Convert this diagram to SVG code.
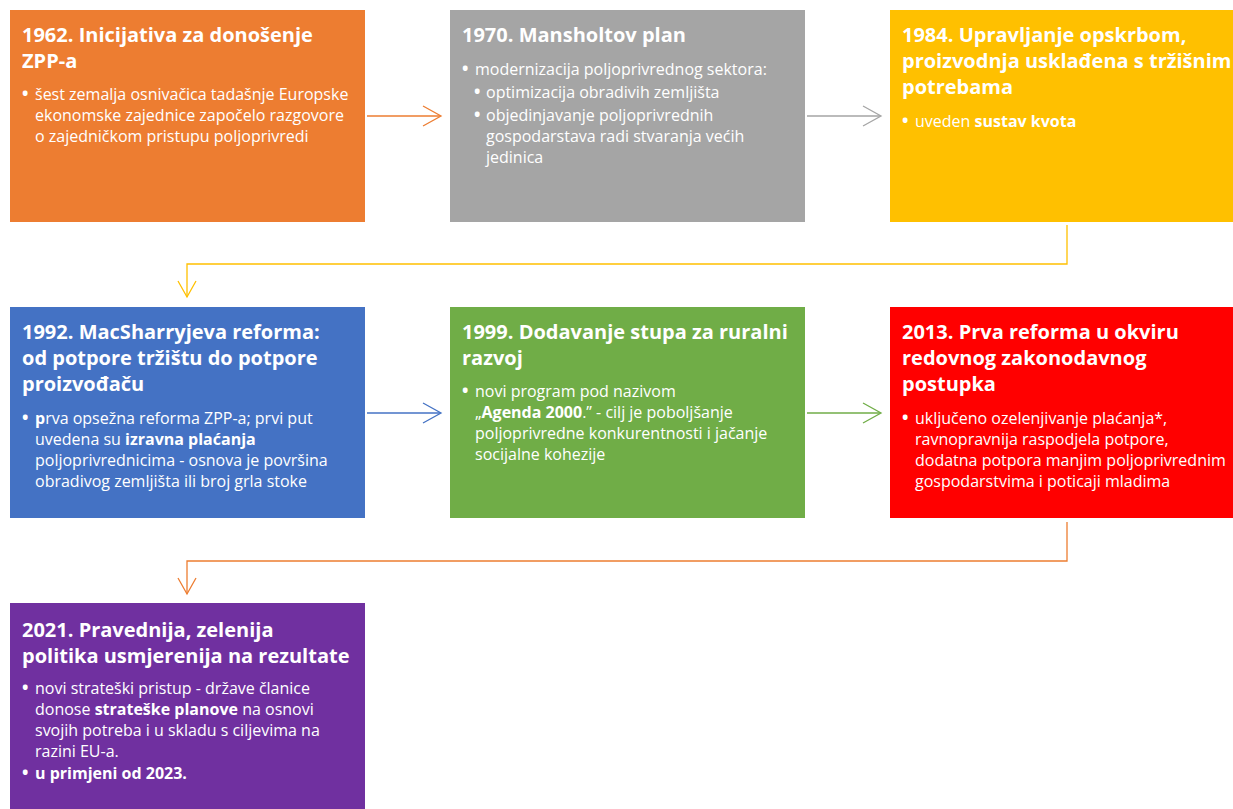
<svg xmlns="http://www.w3.org/2000/svg" width="1233" height="809" viewBox="0 0 1233 809">
<defs>
<style>
.t{font-family:"Open Sans","Liberation Sans",sans-serif;font-weight:700;font-size:20px;fill:#fff}
.b{font-family:"Open Sans","Liberation Sans",sans-serif;font-size:16px;fill:#fff}
.bb{font-weight:700}
.d{font-weight:700;font-size:17px}
.c{fill:none;stroke-width:1.3}
</style>
</defs>
<rect width="1233" height="809" fill="#fff"/>
<g id="connectors">
<g stroke="#ED7D31" class="c"><path d="M367 116H440"/><path d="M423 106L441 116L423 126"/></g>
<g stroke="#A5A5A5" class="c"><path d="M807 116H880"/><path d="M863 106L881 116L863 126"/></g>
<g stroke="#FFC000" class="c"><path d="M1067 225V264H187V297"/><path d="M178 281L187 297L196 281"/></g>
<g stroke="#4472C4" class="c"><path d="M367 413H440"/><path d="M423 403L441 413L423 423"/></g>
<g stroke="#70AD47" class="c"><path d="M807 413H880"/><path d="M863 403L881 413L863 423"/></g>
<g stroke="#ED7D31" class="c"><path d="M1067 522V561H187V594"/><path d="M178 578L187 594L196 578"/></g>
</g>
<g id="n1962">
<rect x="10" y="10" width="355" height="212" fill="#ED7D31"/>
<text class="t"><tspan x="22" y="42">1962. Inicijativa za donošenje</tspan><tspan x="22" y="68">ZPP-a</tspan></text>
<text class="b"><tspan x="22" y="100" class="d">•</tspan><tspan x="35" y="100">šest zemalja osnivačica tadašnje Europske</tspan><tspan x="35" y="121">ekonomske zajednice započelo razgovore</tspan><tspan x="35" y="142">o zajedničkom pristupu poljoprivredi</tspan></text>
</g>
<g id="n1970">
<rect x="450" y="10" width="355" height="212" fill="#A5A5A5"/>
<text class="t"><tspan x="462" y="42">1970. Mansholtov plan</tspan></text>
<text class="b"><tspan x="462" y="75" class="d">•</tspan><tspan x="475" y="75">modernizacija poljoprivrednog sektora:</tspan><tspan x="474" y="98" class="d">•</tspan><tspan x="486" y="98">optimizacija obradivih zemljišta</tspan><tspan x="474" y="121" class="d">•</tspan><tspan x="486" y="121">objedinjavanje poljoprivrednih</tspan><tspan x="486" y="142">gospodarstava radi stvaranja većih</tspan><tspan x="486" y="163">jedinica</tspan></text>
</g>
<g id="n1984">
<rect x="890" y="10" width="355" height="212" fill="#FFC000"/>
<text class="t"><tspan x="902" y="42">1984. Upravljanje opskrbom,</tspan><tspan x="902" y="68">proizvodnja usklađena s tržišnim</tspan><tspan x="902" y="94">potrebama</tspan></text>
<text class="b"><tspan x="902" y="127" class="d">•</tspan><tspan x="915" y="127">uveden </tspan><tspan class="bb">sustav kvota</tspan></text>
</g>
<g id="n1992">
<rect x="10" y="307" width="355" height="211" fill="#4472C4"/>
<text class="t"><tspan x="22" y="339">1992. MacSharryjeva reforma:</tspan><tspan x="22" y="365">od potpore tržištu do potpore</tspan><tspan x="22" y="391">proizvođaču</tspan></text>
<text class="b"><tspan x="22" y="424" class="d">•</tspan><tspan x="35" y="424" class="bb">p</tspan><tspan>rva opsežna reforma ZPP-a; prvi put</tspan><tspan x="35" y="445">uvedena su </tspan><tspan class="bb">izravna plaćanja</tspan><tspan x="35" y="466">poljoprivrednicima - osnova je površina</tspan><tspan x="35" y="487">obradivog zemljišta ili broj grla stoke</tspan></text>
</g>
<g id="n1999">
<rect x="450" y="307" width="355" height="211" fill="#70AD47"/>
<text class="t"><tspan x="462" y="339">1999. Dodavanje stupa za ruralni</tspan><tspan x="462" y="365">razvoj</tspan></text>
<text class="b"><tspan x="462" y="397" class="d">•</tspan><tspan x="475" y="397">novi program pod nazivom</tspan><tspan x="475" y="418">„</tspan><tspan class="bb">Agenda 2000</tspan><tspan>.” - cilj je poboljšanje</tspan><tspan x="475" y="439">poljoprivredne konkurentnosti i jačanje</tspan><tspan x="475" y="460">socijalne kohezije</tspan></text>
</g>
<g id="n2013">
<rect x="890" y="307" width="355" height="211" fill="#FF0000"/>
<text class="t"><tspan x="902" y="339">2013. Prva reforma u okviru</tspan><tspan x="902" y="365">redovnog zakonodavnog</tspan><tspan x="902" y="391">postupka</tspan></text>
<text class="b"><tspan x="902" y="424" class="d">•</tspan><tspan x="915" y="424">uključeno ozelenjivanje plaćanja*,</tspan><tspan x="915" y="445">ravnopravnija raspodjela potpore,</tspan><tspan x="915" y="466">dodatna potpora manjim poljoprivrednim</tspan><tspan x="915" y="487">gospodarstvima i poticaji mladima</tspan></text>
</g>
<g id="n2021">
<rect x="10" y="603" width="355" height="212" fill="#7030A0"/>
<text class="t"><tspan x="22" y="637">2021. Pravednija, zelenija</tspan><tspan x="22" y="663">politika usmjerenija na rezultate</tspan></text>
<text class="b"><tspan x="22" y="694" class="d">•</tspan><tspan x="35" y="694">novi strateški pristup - države članice</tspan><tspan x="35" y="715">donose </tspan><tspan class="bb">strateške planove</tspan><tspan> na osnovi</tspan><tspan x="35" y="736">svojih potreba i u skladu s ciljevima na</tspan><tspan x="35" y="757">razini EU-a.</tspan><tspan x="22" y="779" class="d">•</tspan><tspan x="35" y="779" class="bb">u primjeni od 2023.</tspan></text>
</g>
</svg>
